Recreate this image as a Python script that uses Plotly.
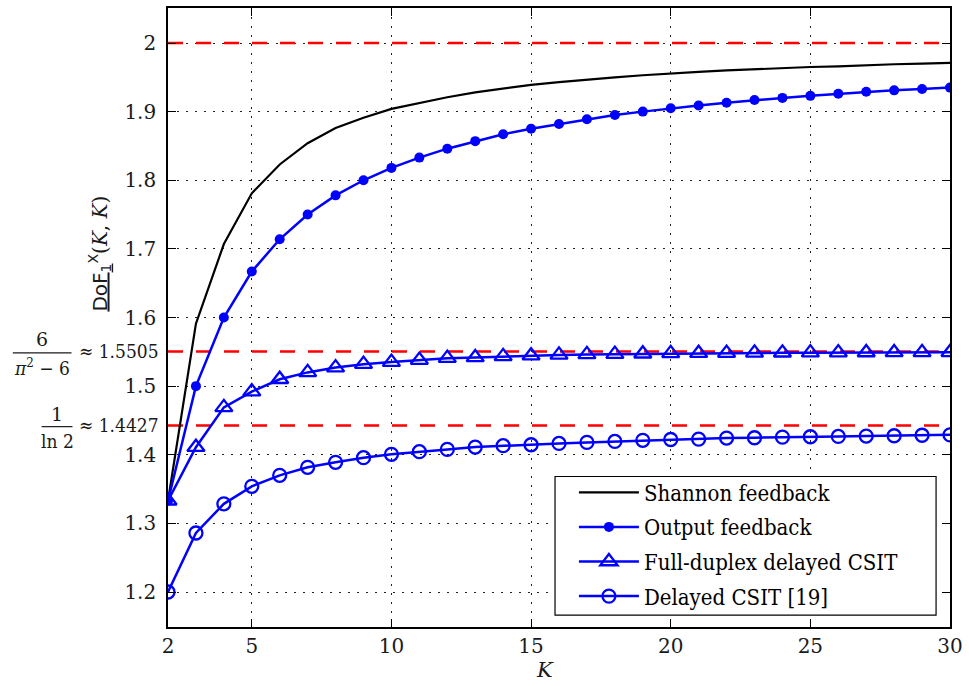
import plotly.graph_objects as go

# ---------------- data ----------------
K = list(range(2, 31))
shannon = [1.333, 1.591, 1.707, 1.781, 1.823, 1.854, 1.876, 1.891, 1.904, 1.913,
           1.921, 1.928, 1.934, 1.939, 1.943, 1.947, 1.950, 1.953, 1.956, 1.958,
           1.960, 1.962, 1.964, 1.965, 1.966, 1.968, 1.969, 1.970, 1.971]
output_fb = [1.333, 1.5, 1.6, 1.667, 1.714, 1.75, 1.778, 1.8, 1.818, 1.833,
             1.846, 1.857, 1.867, 1.875, 1.882, 1.889, 1.895, 1.9, 1.905, 1.909,
             1.913, 1.917, 1.92, 1.923, 1.926, 1.929, 1.931, 1.933, 1.935]
full_duplex = [1.333, 1.411, 1.469, 1.492, 1.510, 1.520, 1.527, 1.532, 1.535, 1.538,
               1.5408, 1.5418, 1.5433, 1.5443, 1.5455, 1.5462, 1.5467, 1.5472, 1.5477, 1.548,
               1.5482, 1.5484, 1.5486, 1.5488, 1.5489, 1.549, 1.5491, 1.5492, 1.5493]
delayed = [1.2, 1.286, 1.3285, 1.354, 1.370, 1.3817, 1.389, 1.3957, 1.4006, 1.4045,
           1.4078, 1.4112, 1.4132, 1.4146, 1.4165, 1.418, 1.4194, 1.421, 1.4222, 1.4228,
           1.4243, 1.4248, 1.4257, 1.4262, 1.4267, 1.4272, 1.4277, 1.4284, 1.429]
ref_levels = [2.0, 1.5505, 1.4427]
ref_labels = ["", "≈ 1.5505", "≈ 1.4427"]

x_ticks = [2, 5, 10, 15, 20, 25, 30]
y_ticks = [1.2, 1.3, 1.4, 1.5, 1.6, 1.7, 1.8, 1.9, 2.0]
y_ticktext = ["1.2", "1.3", "1.4", "1.5", "1.6", "1.7", "1.8", "1.9", "2"]

legend_names = ["Shannon feedback", "Output feedback",
                "Full-duplex delayed CSIT", "Delayed CSIT [19]"]

# ---------------- layout helpers ----------------
W, H = 969, 686
L, R, T, B = 168, 15, 6, 59
PW, PH = W - L - R, H - T - B


def px(xp):
    return (xp - L) / PW


def py(yp):
    return (H - B - yp) / PH


TICKF = "DejaVu Serif"
CONDF = "DejaVu Serif Condensed"
BLUE = "#0000ff"
TXT = "#1a1a1a"

fig = go.Figure()

# red dashed reference levels
for lev in ref_levels:
    fig.add_trace(go.Scatter(x=[K[0], K[-1]], y=[lev, lev], mode="lines",
                             line=dict(color="#ff0000", width=2.5, dash="15px,13px"),
                             showlegend=False, hoverinfo="skip"))

fig.add_trace(go.Scatter(x=K, y=shannon, mode="lines", name=legend_names[0],
                         legendgroup="g1",
                         line=dict(color="black", width=2.2)))
fig.add_trace(go.Scatter(x=K, y=output_fb, mode="lines+markers", name=legend_names[1],
                         legendgroup="g2",
                         line=dict(color=BLUE, width=2.5),
                         marker=dict(symbol="circle", size=10, color=BLUE)))
fig.add_trace(go.Scatter(x=K, y=full_duplex, mode="lines+markers", name=legend_names[2],
                         legendgroup="g3",
                         line=dict(color=BLUE, width=2.5),
                         marker=dict(symbol="triangle-up-open", size=15, color=BLUE,
                                     line=dict(width=2.3, color=BLUE))))
fig.add_trace(go.Scatter(x=K, y=delayed, mode="lines+markers", name=legend_names[3],
                         legendgroup="g4",
                         line=dict(color=BLUE, width=2.5),
                         marker=dict(symbol="circle-open", size=13, color=BLUE,
                                     line=dict(width=2.3, color=BLUE))))

axis_common = dict(showline=True, linecolor="black", linewidth=1.6, mirror="allticks",
                   ticks="inside", ticklen=8, tickwidth=1, tickcolor="black",
                   showgrid=True, gridcolor="#222222", gridwidth=1, griddash="1.5px,7.5px",
                   zeroline=False, tickfont=dict(family=TICKF, size=20, color=TXT))

fig.update_xaxes(range=[2, 30], tickvals=x_ticks, ticktext=[str(v) for v in x_ticks],
                 ticklabelstandoff=0, **axis_common)
fig.update_yaxes(range=[1.149, 2.051], tickvals=y_ticks, ticktext=y_ticktext,
                 ticklabelstandoff=6, **axis_common)

annotations = []
shapes = []
# custom y labels for reference levels
for lev, lab in zip(ref_levels, ref_labels):
    if lab:
        annotations.append(dict(x=px(161), y=lev, xref="paper", yref="y", text=lab,
                                showarrow=False, xanchor="right", yanchor="middle",
                                font=dict(family=CONDF, size=19, color=TXT)))

# fraction 6/(pi^2-6)
annotations.append(dict(x=px(41), y=py(338), xref="paper", yref="paper", text="6",
                        showarrow=False, xanchor="center", yanchor="middle",
                        font=dict(family=TICKF, size=19, color=TXT)))
annotations.append(dict(x=px(41), y=py(366), xref="paper", yref="paper",
                        text="<i>π</i><sup>2</sup> − 6",
                        showarrow=False, xanchor="center", yanchor="middle",
                        font=dict(family=CONDF, size=19, color=TXT)))
shapes.append(dict(type="line", xref="paper", yref="paper", x0=px(12), x1=px(71),
                   y0=py(352), y1=py(352), line=dict(color=TXT, width=1.2)))
# fraction 1/ln2
annotations.append(dict(x=px(56), y=py(413), xref="paper", yref="paper", text="1",
                        showarrow=False, xanchor="center", yanchor="middle",
                        font=dict(family=TICKF, size=19, color=TXT)))
annotations.append(dict(x=px(56.5), y=py(440), xref="paper", yref="paper", text="ln 2",
                        showarrow=False, xanchor="center", yanchor="middle",
                        font=dict(family=CONDF, size=19, color=TXT)))
shapes.append(dict(type="line", xref="paper", yref="paper", x0=px(41), x1=px(72),
                   y0=py(426), y1=py(426), line=dict(color=TXT, width=1.2)))

# legend frame
shapes.append(dict(type="rect", xref="paper", yref="paper", x0=px(557), x1=px(940),
                   y0=py(615), y1=py(476), layer="above",
                   fillcolor="white", line=dict(color="black", width=1.2)))

# y-axis title
annotations.append(dict(x=px(99), y=py(252), xref="paper", yref="paper",
                        text="<span style=\"font-family:'DejaVu Sans'\"><u>DoF<sub>1</sub></u><sup>X</sup></span>(<i>K</i>, <i>K</i>)",
                        textangle=-90, showarrow=False, xanchor="center", yanchor="middle",
                        font=dict(family=TICKF, size=20, color=TXT)))
# x-axis title
annotations.append(dict(x=px(547), y=py(670), xref="paper", yref="paper",
                        text="<i>K</i>", showarrow=False, xanchor="center", yanchor="middle",
                        font=dict(family=TICKF, size=21, color=TXT)))

fig.update_layout(
    width=W, height=H,
    margin=dict(l=L, r=R, t=T, b=B, pad=0),
    paper_bgcolor="white", plot_bgcolor="white",
    showlegend=True,
    legend=dict(x=px(576), y=py(471), xanchor="left", yanchor="top",
                bgcolor="rgba(0,0,0,0)", borderwidth=0,
                font=dict(family=CONDF, size=22, color="black"),
                itemwidth=60, tracegroupgap=3),
    annotations=annotations, shapes=shapes,
)

fig.write_html("out.html", config={"displayModeBar": False},
               post_script="document.body.style.margin='0';")
